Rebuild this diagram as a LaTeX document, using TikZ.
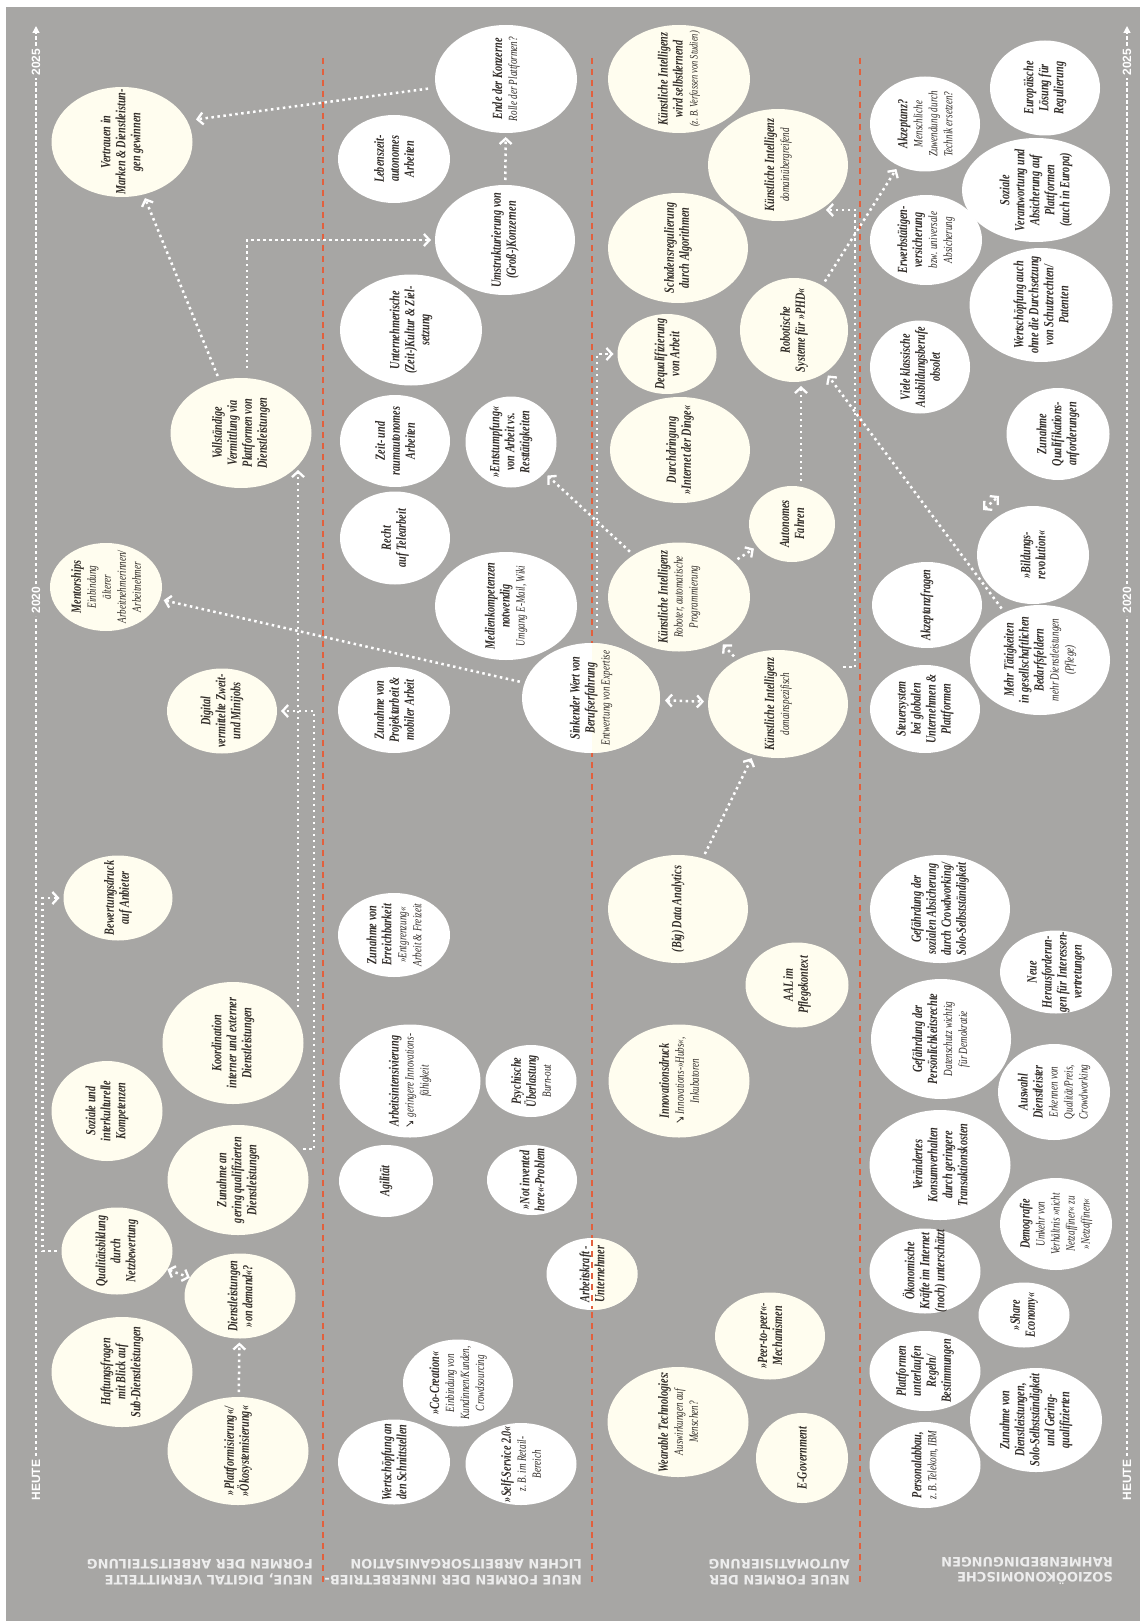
\documentclass[tikz,border=0pt]{standalone}
\usepackage{fontspec}
\setmainfont{Liberation Serif}[FakeStretch=0.73]
\newfontfamily\labfont{DejaVu Sans}
\newfontfamily\timefont{Liberation Sans}
\newfontfamily\symfont{DejaVu Sans}[FakeStretch=0.8]
\usetikzlibrary{shapes.geometric,arrows.meta,calc}
\definecolor{bgc}{HTML}{A7A6A4}
\definecolor{crm}{HTML}{FFFDEF}
\definecolor{txc}{HTML}{2F2A26}
\definecolor{redc}{HTML}{E2603D}
\definecolor{labc}{HTML}{EDEDED}
\newcommand\rg[1]{{\fontsize{12.5}{15}\selectfont\mdseries #1}}
\newcommand\sea{{\symfont\char"2198}}
\newcommand\bub[7]{%
 \node[bubble,fill=#6,minimum width=#5pt,minimum height=#4pt] (#1) at (#2,#3) {};
 \node[btext] (#1-txt) at (#1.center) {#7};}
\newcommand\bubsplit[6]{%
 \node[bubble,fill=white,minimum width=#5pt,minimum height=#4pt] (#1) at (#2,#3) {};
 \begin{scope}\clip (592,0) rectangle (1140,1621);
 \node[bubble,fill=crm,minimum width=#5pt,minimum height=#4pt] (#1-half) at (#2,#3) {};
 \end{scope}
 \node[btext] (#1-txt) at (#1.center) {#6};}
\begin{document}
\begin{tikzpicture}[x=1pt,y=-1pt,
 bubble/.style={ellipse, draw=none, inner sep=0pt, outer sep=0pt, rotate=90},
 btext/.style={rotate=90, align=center, text=txc, inner sep=0pt, font=\fontsize{14}{15}\selectfont\bfseries\itshape},
 chev/.tip={Straight Barb[length=5.5pt,width=12pt,line width=2.3pt]},
 conn/.style={draw=white, line width=2.5pt, dash pattern=on 2.5pt off 3.5pt, shorten <=5pt, shorten >=4pt, -chev},
 dbl/.style={conn, chev-chev, shorten <=0pt, shorten >=0pt},
 reddash/.style={draw=redc, line width=1.6pt, dash pattern=on 6pt off 5pt},
 tline/.style={draw=white, line width=1.3pt, dash pattern=on 3.5pt off 2.5pt},
 tlab/.style={rotate=90, text=white, font=\timefont\bfseries\fontsize{12}{14}\selectfont, inner sep=0pt},
 slab/.style={rotate=180, anchor=north west, align=left, text=labc, inner sep=0pt, font=\labfont\bfseries\fontsize{13}{15.5}\selectfont}]
\useasboundingbox (0,0) rectangle (1140,1621);
\fill[white] (0,0) rectangle (1140,1621);
\fill[bgc] (6,7) rectangle (1140,1621);
% separators
\foreach \xx in {323,592,860} \draw[reddash] (\xx,58) -- (\xx,1586);
% time lines
\foreach \xx/\nm in {36/l,1127/r} {
 \draw[tline] (\xx,1456) -- (\xx,616);
 \draw[tline] (\xx,584) -- (\xx,78);
 \draw[tline, -{Triangle[length=7pt,width=7pt]}] (\xx,46) -- (\xx,26);
 \node[tlab] (heute\nm) at (\xx,1480) {HEUTE};
 \node[tlab] (y2020\nm) at (\xx,600) {2020};
 \node[tlab] (y2025\nm) at (\xx,62) {2025};
}
% section labels
\node[slab] (s1) at (313,1585) {NEUE, DIGITAL VERMITTELTE\\FORMEN DER ARBEITSTEILUNG};
\node[slab] (s2) at (582,1585) {NEUE FORMEN DER INNERBETRIEB-\\LICHEN ARBEITSORGANISATION};
\node[slab] (s3) at (850,1585) {NEUE FORMEN DER\\AUTOMATISIERUNG};
\node[slab] (s4) at (1113,1585) {SOZIOÖKONOMISCHE\\RAHMENBEDINGUNGEN};
% column 1
\bub{Vert}{122}{142}{141}{110}{crm}{Vertrauen in\\Marken \& Dienstleistun-\\gen gewinnen}
\bub{Voll}{241}{433}{141}{110}{crm}{Vollständige\\Vermittlung via\\Plattformen von\\Dienstleistungen}
\bub{Ment}{106}{587}{112}{88}{crm}{Mentorships\\\rg{Einbindung}\\\rg{älterer}\\\rg{Arbeitnehmerinnen/}\\\rg{Arbeitnehmer}}
\bub{Dig}{222}{711}{110}{85}{crm}{Digital\\vermittelte Zweit-\\und Minijobs}
\bub{Bew}{118}{898}{109}{85}{crm}{Bewertungsdruck\\auf Anbieter}
\bub{Koord}{233}{1043}{141}{122}{crm}{Koordination\\interner und externer\\Dienstleistungen}
\bub{Soz}{107}{1111}{111}{100}{crm}{Soziale und\\interkulturelle\\Kompetenzen}
\bub{ZunG}{238}{1180}{141}{110}{crm}{Zunahme an\\gering qualifizierten\\Dienstleistungen}
\bub{Qual}{117}{1251}{111}{87}{crm}{Qualitätsbildung\\durch\\Netzbewertung}
\bub{OnD}{240}{1296}{111}{85}{crm}{Dienstleistungen\\»on demand«?}
\bub{Haft}{122}{1372}{141}{110}{crm}{Haftungsfragen\\mit Blick auf\\Sub-Dienstleistungen}
\bub{Platt}{238}{1451}{141}{108}{crm}{»Plattformisierung«/\\»Ökosystemisierung«}
% column 2
\bub{Ende}{506}{79}{142}{108}{white}{Ende der Konzerne\\\rg{Rolle der Plattformen?}}
\bub{Leb}{394}{159}{112}{88}{white}{Lebenszeit-\\autonomes\\Arbeiten}
\bub{Umst}{505}{240}{140}{110}{white}{Umstrukturierung von\\(Groß-)Konzernen}
\bub{Unt}{411}{330}{142}{111}{white}{Unternehmerische\\(Zeit-)Kultur \& Ziel-\\setzung}
\bub{ZeitR}{395}{441}{110}{92}{white}{Zeit- und\\raumautonomes\\Arbeiten}
\bub{Ent}{511}{442}{91}{91}{white}{»Entstumpfung«\\von Arbeit vs.\\Resttätigkeiten}
\bub{Recht}{395}{538}{110}{93}{white}{Recht\\auf Telearbeit}
\bub{Med}{506}{606}{142}{108}{white}{Medienkompetenzen\\notwendig\\\rg{Umgang E-Mail, Wiki}}
\bub{ZunP}{394}{710}{112}{86}{white}{Zunahme von\\Projektarbeit \&\\mobiler Arbeit}
\bubsplit{Sink}{591}{698}{138}{110}{Sinkender Wert von\\Berufserfahrung\\\rg{Entwertung von Expertise}}
\bub{ZunE}{394}{935}{112}{84}{white}{Zunahme von\\Erreichbarkeit\\\rg{»Entgrenzung«}\\\rg{Arbeit \& Freizeit}}
\bub{Arb}{410}{1081}{141}{113}{white}{Arbeitsintensivierung\\\rg{\sea\ geringere Innovations-}\\\rg{fähigkeit}}
\bub{Psy}{531}{1081}{91}{72}{white}{Psychische\\Überlastung\\\rg{Burn-out}}
\bub{Agil}{386}{1181}{94}{72}{white}{Agilität}
\bub{NIH}{532}{1180}{90}{70}{white}{»Not invented\\here«-Problem}
\bubsplit{ArbU}{592}{1274}{91}{72}{Arbeitskraft -\\Unternehmer}
\draw[reddash] (592,1240) -- (592,1309);
\bub{CoC}{458}{1383}{110}{87}{white}{»Co-Creation«\\\rg{Einbindung von}\\\rg{Kundinnen/Kunden,}\\\rg{Crowdsourcing}}
\bub{WS}{394}{1462}{112}{85}{white}{Wertschöpfung an\\den Schnittstellen}
\bub{Self}{521}{1464}{111}{82}{white}{»Self-Service 2.0«\\\rg{z.\,B. im Retail-}\\\rg{Bereich}}
% column 3
\bub{KIsl}{679}{79}{142}{108}{crm}{Künstliche Intelligenz\\wird selbstlernend\\\rg{\fontsize{11.5}{15}\selectfont(z.\,B. Verfassen von Studien)}}
\bub{KIdu}{778}{165}{140}{112}{crm}{Künstliche Intelligenz\\\rg{domainübergreifend}}
\bub{Schad}{678}{248}{140}{110}{crm}{Schadensregulierung\\durch Algorithmen}
\bub{Deq}{667}{354}{99}{80}{crm}{Dequalifizierung\\von Arbeit}
\bub{Rob}{794}{330}{108}{104}{crm}{Robotische\\Systeme für »PHD«}
\bub{Durch}{680}{450}{140}{106}{crm}{Durchdringung\\»Internet der Dinge«}
\bub{Auto}{792}{524}{86}{76}{crm}{Autonomes\\Fahren}
\bub{KIr}{679}{597}{142}{109}{crm}{Künstliche Intelligenz\\\rg{Roboter, automatische}\\\rg{Programmierung}}
\bub{KIds}{778}{704}{140}{108}{crm}{Künstliche Intelligenz\\\rg{domainspezifisch}}
\bub{BDA}{678}{909}{140}{108}{crm}{(Big) Data Analytics}
\bub{AAL}{797}{985}{103}{85}{crm}{AAL im\\Pflegekontext}
\bub{Inno}{679}{1081}{141}{113}{crm}{Innovationsdruck\\\rg{\sea\ Innovations-»Hubs«,}\\\rg{Inkubatoren}}
\bub{Peer}{770}{1336}{110}{87}{crm}{»Peer-to-peer«-\\Mechanismen}
\bub{Wear}{678}{1422}{141}{110}{crm}{Wearable Technologies:\\\rg{Auswirkungen auf}\\\rg{Menschen?}}
\bub{EGov}{802}{1458}{92}{90}{crm}{E-Government}
% column 4
\bub{Akz}{925}{124}{110}{95}{white}{Akzeptanz?\\\rg{Menschliche}\\\rg{Zuwendung durch}\\\rg{Technik ersetzen?}}
\bub{Euro}{1045}{88}{110}{95}{white}{Europäische\\Lösung für\\Regulierung}
\bub{Erw}{926}{240}{112}{90}{white}{Erwerbstätigen-\\versicherung\\\rg{bzw. universale}\\\rg{Absicherung}}
\bub{SozV}{1036}{190}{148}{104}{white}{Soziale\\Verantwortung und\\Absicherung auf\\Plattformen\\(auch in Europa)}
\bub{Viele}{920}{367}{100}{93}{white}{Viele klassische\\Ausbildungsberufe\\obsolet}
\bub{WertS}{1041}{305}{143}{114}{white}{Wertschöpfung auch\\ohne die Durchsetzung\\von Schutzrechten/\\Patenten}
\bub{ZunQ}{1058}{434}{103}{92}{white}{Zunahme\\Qualifikations-\\anforderungen}
\bub{Bild}{1033}{555}{112}{98}{white}{»Bildungs-\\revolution«}
\bub{AkzF}{927}{605}{110}{86}{white}{Akzeptanzfragen}
\bub{Steu}{925}{709}{110}{88}{white}{Steuersystem\\bei globalen\\Unternehmen \&\\Plattformen}
\bub{Mehr}{1040}{660}{140}{110}{white}{Mehr Tätigkeiten\\in gesellschaftlichen\\Bedarfsfeldern\\\rg{mehr Dienstleistungen}\\\rg{(Pflege)}}
\bub{GefS}{940}{909}{140}{108}{white}{Gefährdung der\\sozialen Absicherung\\durch Crowdworking/\\Solo-Selbstständigkeit}
\bub{Neue}{1056}{972}{112}{83}{white}{Neue\\Herausforderun-\\gen für Interessen-\\vertretungen}
\bub{GefP}{941}{1039}{140}{120}{white}{Gefährdung der\\Persönlichkeitsrechte\\\rg{Datenschutz wichtig}\\\rg{für Demokratie}}
\bub{Ausw}{1054}{1092}{112}{96}{white}{Auswahl\\Dienstleister\\\rg{Erkennen von}\\\rg{Qualität/Preis,}\\\rg{Crowdworking}}
\bub{Ver}{940}{1165}{141}{110}{white}{Verändertes\\Konsumverhalten\\durch geringere\\Transaktionskosten}
\bub{Oek}{925}{1271}{111}{85}{white}{Ökonomische\\Kräfte im Internet\\(noch) unterschätzt}
\bub{Demo}{1056}{1224}{112}{92}{white}{Demografie\\\rg{Umkehr von}\\\rg{Verhältnis »nicht}\\\rg{Netzaffiner« zu}\\\rg{»Netzaffinen«}}
\bub{Share}{1024}{1315}{91}{65}{white}{»Share\\Economy«}
\bub{PlU}{925}{1371}{111}{80}{white}{Plattformen\\unterlaufen\\Regeln/\\Bestimmungen}
\bub{ZunD}{1036}{1420}{132}{104}{white}{Zunahme von\\Dienstleistungen,\\Solo-Selbstständigkeit\\und Gering-\\qualifizierten}
\bub{Pers}{925}{1465}{111}{86}{white}{Personalabbau,\\\rg{z.\,B. Telekom, IBM}}
% connectors
\draw[conn] (Platt) -- (OnD);
\draw[dbl] (Qual) -- (OnD);
\draw[conn] (Qual.north) -- ++(-19,0) |- (Bew.north);
\coordinate (c4s) at ($(ZunG.center)+(60,-31)$);
\draw[conn] (c4s) -- (314,1149) -- (314,711) -- (Dig.south);
\draw[conn] ($(Koord.center)+(65,-31)$) -- ($(Voll.center)+(57,33)$);
\draw[conn] (Voll) -- (Vert);
\draw[conn] ($(Voll.east)+(6,-5)$) |- (Umst.north);
\draw[conn] (Umst) -- (Ende);
\draw[conn] ($(Ende.north)+(-2,9)$) -- ($(Vert.center)+(70,-22)$);
\draw[conn] (Sink) -- (Ment);
\draw[conn, chev-chev] (Sink) -- (KIds);
\draw[conn] (BDA) -- (KIds);
\draw[conn] (KIds) -- (KIr);
\draw[conn] (KIr) -- (Auto);
\draw[conn] (KIr) -- (Ent);
\draw[conn] ($(Sink.east)+(6,-10)$) |- (Deq.north);
\draw[conn] ($(Auto.east)+(9,0)$) -- ($(Rob.west)+(7,0)$);
\draw[conn] (Rob) -- (Akz);
\draw[conn] ($(KIds.center)+(60,-37)$) -- (855,667) -- (855,210) -- ($(KIdu.center)+(44,45)$);
\draw[conn] (Mehr) -- (Rob);
\coordinate (bq1) at (983,510);
\coordinate (bq2) at (999,496);
\draw[dbl] (bq1) -- (bq2);
\end{tikzpicture}
\end{document}
